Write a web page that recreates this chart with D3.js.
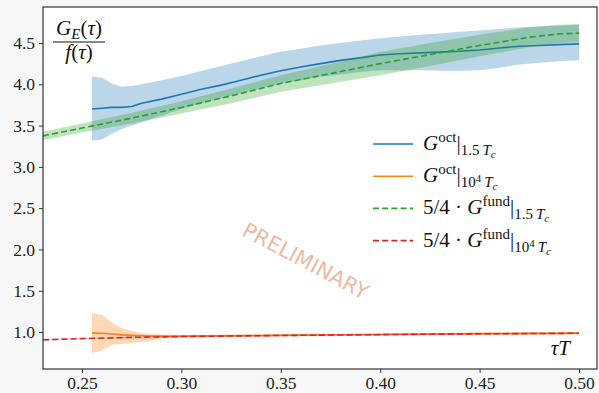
<!DOCTYPE html>
<html>
<head>
<meta charset="utf-8">
<script src="https://cdn.jsdelivr.net/npm/d3@7"></script>
<style>
  html, body { margin: 0; padding: 0; background: #f7f7f7; }
  svg { display: block; }
</style>
</head>
<body>
<svg id="chart" width="599" height="393"></svg>
<script>
// G^oct at 1.5 T_c: correlator ratio with asymmetric uncertainty band
const tauBlue = [0.255, 0.26, 0.265, 0.27, 0.275, 0.28, 0.29, 0.30, 0.31, 0.32, 0.33, 0.34, 0.35, 0.36, 0.37, 0.38, 0.39, 0.40, 0.41, 0.42, 0.43, 0.44, 0.45, 0.46, 0.47, 0.48, 0.49, 0.50];
const blueMid = [3.70, 3.71, 3.72, 3.72, 3.73, 3.77, 3.82, 3.88, 3.94, 3.99, 4.05, 4.11, 4.165, 4.21, 4.25, 4.29, 4.32, 4.355, 4.37, 4.38, 4.39, 4.40, 4.415, 4.44, 4.46, 4.47, 4.48, 4.49];
const blueHi  = [4.09, 4.08, 4.01, 3.97, 3.98, 4.00, 4.05, 4.10, 4.16, 4.22, 4.28, 4.34, 4.395, 4.43, 4.47, 4.50, 4.53, 4.557, 4.58, 4.60, 4.615, 4.635, 4.65, 4.67, 4.69, 4.70, 4.71, 4.72];
const blueLo  = [3.32, 3.33, 3.40, 3.46, 3.50, 3.54, 3.62, 3.70, 3.77, 3.83, 3.89, 3.95, 4.01, 4.05, 4.09, 4.12, 4.15, 4.17, 4.17, 4.17, 4.165, 4.165, 4.17, 4.20, 4.24, 4.26, 4.28, 4.29];

// G^oct at 10^4 T_c
const tauOrange = [0.255, 0.26, 0.265, 0.27, 0.2775, 0.285, 0.29, 0.30, 0.35, 0.40, 0.45, 0.50];
const orangeMid = [0.99, 0.985, 0.975, 0.965, 0.958, 0.952, 0.950, 0.950, 0.960, 0.970, 0.980, 0.985];
const orangeHi  = [1.23, 1.205, 1.115, 1.045, 1.000, 0.975, 0.970, 0.965, 0.975, 0.985, 0.995, 1.000];
const orangeLo  = [0.745, 0.775, 0.845, 0.855, 0.875, 0.895, 0.920, 0.935, 0.945, 0.955, 0.965, 0.970];

// 5/4 * G^fund at 1.5 T_c
const tauGreen = [0.2304, 0.25, 0.275, 0.30, 0.325, 0.35, 0.375, 0.40, 0.425, 0.45, 0.475, 0.49, 0.50];
const greenMid = [3.375, 3.47, 3.59, 3.72, 3.86, 4.01, 4.13, 4.25, 4.36, 4.47, 4.57, 4.61, 4.62];
const greenErr = [0.05, 0.055, 0.065, 0.075, 0.09, 0.10, 0.12, 0.14, 0.14, 0.13, 0.12, 0.11, 0.11];

// 5/4 * G^fund at 10^4 T_c
const tauRed = [0.2304, 0.25, 0.275, 0.30, 0.35, 0.40, 0.45, 0.50];
const redMid = [0.905, 0.92, 0.935, 0.945, 0.958, 0.968, 0.978, 0.985];
const redErr = [0.006, 0.006, 0.007, 0.007, 0.008, 0.008, 0.009, 0.009];

const xTicks = [0.25, 0.30, 0.35, 0.40, 0.45, 0.50];
const yTicks = [1.0, 1.5, 2.0, 2.5, 3.0, 3.5, 4.0, 4.5];

const C = { blue: "#1f77b4", orange: "#ff7f0e", green: "#2ca02c", red: "#d62728" };
const serif = '"Liberation Serif", "DejaVu Serif", serif';

const svg = d3.select("#chart");
const W = 599, H = 393;
const m = { left: 43, right: 2, top: 7, bottom: 24 };

const x = d3.scaleLinear().domain([0.23038, 0.50905]).range([m.left, W - m.right]);
const y = d3.scaleLinear().domain([0.552, 4.936]).range([H - m.bottom, m.top]);

// plot area
svg.append("rect")
  .attr("x", m.left).attr("y", m.top)
  .attr("width", W - m.left - m.right).attr("height", H - m.top - m.bottom)
  .attr("fill", "#ffffff");

svg.append("clipPath").attr("id", "clip")
  .append("rect")
  .attr("x", m.left).attr("y", m.top)
  .attr("width", W - m.left - m.right).attr("height", H - m.top - m.bottom);

const plot = svg.append("g").attr("clip-path", "url(#clip)");

function band(tau, lo, hi, color) {
  const area = d3.area()
    .x((d, i) => x(tau[i]))
    .y0((d, i) => y(lo[i]))
    .y1((d, i) => y(hi[i]));
  plot.append("path").datum(tau).attr("d", area)
    .attr("fill", color).attr("fill-opacity", 0.3).attr("stroke", "none");
}
function curve(tau, vals, color, dashed) {
  const line = d3.line().x((d, i) => x(tau[i])).y((d, i) => y(vals[i]));
  plot.append("path").datum(tau).attr("d", line)
    .attr("fill", "none").attr("stroke", color).attr("stroke-width", 1.6)
    .attr("stroke-dasharray", dashed ? "6,3.2" : null);
}

band(tauBlue, blueLo, blueHi, C.blue);
curve(tauBlue, blueMid, C.blue, false);
band(tauOrange, orangeLo, orangeHi, C.orange);
curve(tauOrange, orangeMid, C.orange, false);
band(tauGreen, greenMid.map((v, i) => v - greenErr[i]), greenMid.map((v, i) => v + greenErr[i]), C.green);
curve(tauGreen, greenMid, C.green, true);
band(tauRed, redMid.map((v, i) => v - redErr[i]), redMid.map((v, i) => v + redErr[i]), C.red);
curve(tauRed, redMid, C.red, true);

// watermark
svg.append("text")
  .attr("transform", `translate(${305},${262}) rotate(28)`)
  .attr("text-anchor", "middle")
  .attr("dominant-baseline", "middle")
  .attr("font-family", '"DejaVu Sans", sans-serif')
  .attr("font-size", 21)
  .attr("fill", "#e3906c")
  .attr("fill-opacity", 0.65)
  .text("PRELIMINARY");

// axes
const xAxis = svg.append("g").attr("transform", `translate(0,${H - m.bottom})`)
  .call(d3.axisBottom(x).tickValues(xTicks).tickFormat(d3.format(".2f")).tickSize(4).tickPadding(4));
const yAxis = svg.append("g").attr("transform", `translate(${m.left},0)`)
  .call(d3.axisLeft(y).tickValues(yTicks).tickFormat(d3.format(".1f")).tickSize(4).tickPadding(4));
[xAxis, yAxis].forEach(g => {
  g.attr("font-family", serif);
  g.select(".domain").remove();
  g.selectAll(".tick line").attr("stroke", "#333").attr("stroke-width", 1);
  g.selectAll(".tick text")
    .attr("font-family", serif)
    .attr("font-size", 17.5).attr("fill", "#222");
});
xAxis.selectAll(".tick text").attr("y", 20).attr("dy", 0);

// frame
svg.append("rect")
  .attr("x", m.left).attr("y", m.top)
  .attr("width", W - m.left - m.right).attr("height", H - m.top - m.bottom)
  .attr("fill", "none").attr("stroke", "#333").attr("stroke-width", 1.2);

// math-style text: parts carry size, italic flag and baseline offset
function mathText(g, px, py, parts, anchor) {
  const t = g.append("text").attr("x", px).attr("y", py)
    .attr("font-family", serif).attr("fill", "#111")
    .attr("text-anchor", anchor || "start");
  let prev = 0;
  parts.forEach(p => {
    const sh = p.shift || 0;
    t.append("tspan")
      .attr("dy", sh - prev)
      .attr("font-size", p.size)
      .attr("font-style", p.it ? "italic" : "normal")
      .text(p.t);
    prev = sh;
  });
  return t;
}

const big = 21, sm = 15, tiny = 11;
const sub15 = [
  { t: "|", size: big },
  { t: "1.5", size: sm, shift: 5 },
  { t: "\u2009", size: sm, shift: 5 },
  { t: "T", size: sm, it: true, shift: 5 },
  { t: "c", size: tiny, it: true, shift: 8 }
];
const sub104 = [
  { t: "|", size: big },
  { t: "10", size: sm, shift: 5 },
  { t: "4", size: tiny, shift: 0 },
  { t: "\u2009", size: sm, shift: 5 },
  { t: "T", size: sm, it: true, shift: 5 },
  { t: "c", size: tiny, it: true, shift: 8 }
];
const oct = [{ t: "G", size: big, it: true }, { t: "oct", size: sm, shift: -8 }];
const fund = [
  { t: "5/4 \u00b7 ", size: big },
  { t: "G", size: big, it: true },
  { t: "fund", size: sm, shift: -8 }
];

const legendItems = [
  { color: C.blue, dashed: false, parts: oct.concat(sub15) },
  { color: C.orange, dashed: false, parts: oct.concat(sub104) },
  { color: C.green, dashed: true, parts: fund.concat(sub15) },
  { color: C.red, dashed: true, parts: fund.concat(sub104) }
];
const legend = svg.append("g");
legendItems.forEach((d, i) => {
  const ly = 144 + i * 32.2;
  legend.append("line")
    .attr("x1", 373).attr("x2", 413).attr("y1", ly).attr("y2", ly)
    .attr("stroke", d.color).attr("stroke-width", 1.6)
    .attr("stroke-dasharray", d.dashed ? "6,3.2" : null);
  mathText(legend, 423, ly + 6, d.parts);
});

// y label as a fraction
mathText(svg, 79, 35, [
  { t: "G", size: big, it: true },
  { t: "E", size: sm, it: true, shift: 4 },
  { t: "(", size: big },
  { t: "\u03c4", size: big, it: true },
  { t: ")", size: big }
], "middle");
svg.append("line").attr("x1", 53).attr("x2", 105).attr("y1", 42).attr("y2", 42)
  .attr("stroke", "#111").attr("stroke-width", 1);
mathText(svg, 79, 59, [
  { t: "f", size: big, it: true },
  { t: "(", size: big },
  { t: "\u03c4", size: big, it: true },
  { t: ")", size: big }
], "middle");

// x label
mathText(svg, 570, 355, [
  { t: "\u03c4", size: big, it: true },
  { t: "T", size: big, it: true }
], "end");
</script>
</body>
</html>
